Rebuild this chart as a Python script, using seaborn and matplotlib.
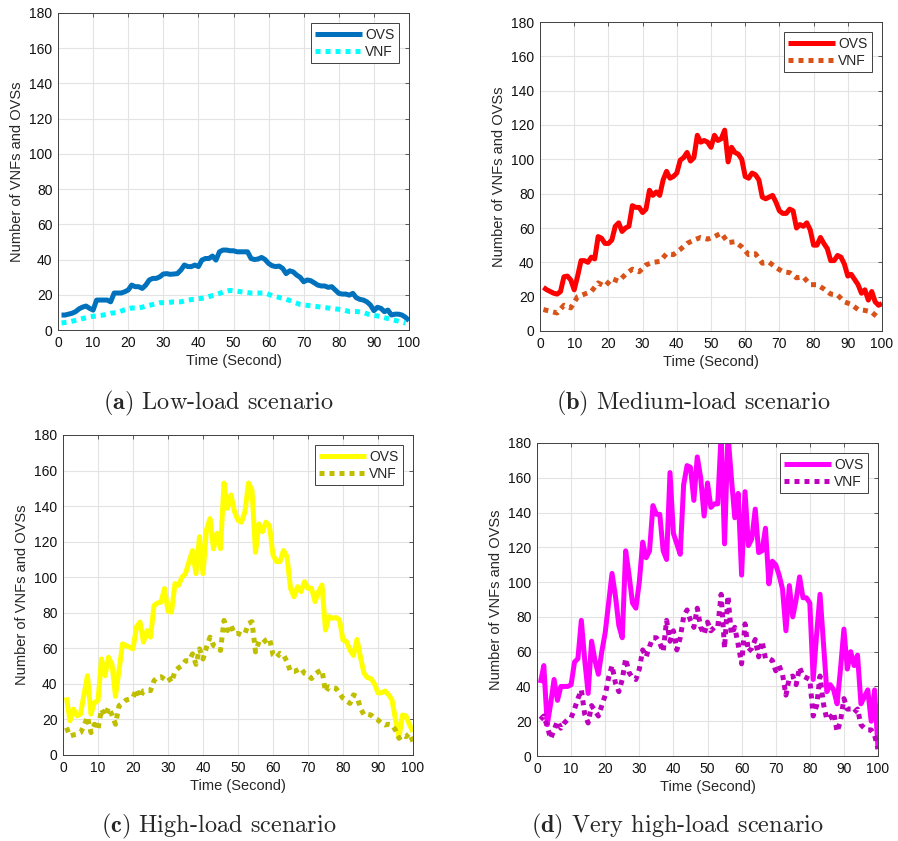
import numpy as np
import pandas as pd
import matplotlib
matplotlib.use("Agg")
import matplotlib.pyplot as plt
import seaborn as sns

# ---------------- data ----------------
t_full = list(range(1, 101))
t_odd = list(range(1, 100, 2))

ovs_low = [8.5, 8.5, 9, 9.5, 10.4, 12, 13, 13.6, 12.3, 11.3,
           17, 17, 17, 17, 16, 21, 21, 21, 21.7, 22.7,
           25.5, 24.6, 24.6, 23.6, 25.5, 28.4, 29.3, 29.3, 30.2, 31.8,
           32, 31.6, 31.8, 32, 34, 36.9, 36, 36, 36.9, 36,
           39.7, 40.6, 40.6, 42, 39.7, 44.4, 45.4, 45.4, 45, 45,
           44.4, 44.4, 44.4, 44.4, 40.6, 40, 40.3, 41.2, 40, 37.8,
           36.5, 36, 36.3, 35, 32, 33.6, 33, 31.2, 29.9, 27.4,
           28.4, 28, 26.8, 25.5, 25, 25, 24.2, 24.6, 22.7, 20.8,
           20.4, 20.4, 19.8, 20.8, 18.3, 17.4, 17, 16, 14.2, 11,
           12.9, 12.3, 10.4, 11.3, 8.5, 9, 9, 8.5, 7.2, 5.3]
vnf_low = [4, 4.5, 5.5, 6.5, 7.5, 8, 8.5, 9.5, 10, 11.5,
           12.5, 12.5, 13.5, 14.5, 15.5, 15.5, 16, 16, 17, 17.5,
           18, 19, 20, 21.5, 22.5, 22, 21.5, 21, 21, 21,
           19.5, 18.5, 17.5, 16, 14.5, 14, 13.5, 13, 12.5, 12,
           11.5, 10.5, 10.5, 10, 8.5, 8, 7, 6, 5, 4]

ovs_med = [25.4, 24, 23, 22, 21.5, 23, 31.6, 32, 29.7, 24,
           32, 41, 41, 40, 43, 42, 55, 54, 51, 51,
           53, 61, 63, 58, 60, 61, 73, 72, 72, 69,
           71, 82, 79, 81, 79, 88, 93, 89, 90, 92,
           99.5, 101, 104, 99, 101, 114, 110, 111, 110, 107,
           114, 111, 112, 117, 98.5, 107, 104, 103, 100, 90,
           89, 92, 91, 88, 78, 77, 78, 79, 75, 70,
           68.5, 68.5, 71, 70, 60, 62, 61, 63, 59, 50,
           50, 54.5, 51, 48, 41, 41, 44, 43, 39, 32,
           33, 30, 27, 22, 24, 18, 23, 17, 15, 16]
vnf_med = [12.5, 11.5, 10.5, 15, 13.5, 20, 21.5, 23, 28, 26,
           30.5, 29, 33, 36, 34.5, 38.5, 40, 40.5, 45, 44.5,
           47.5, 51, 53, 54.5, 53.5, 55, 57, 51.5, 52, 49,
           44.5, 45, 39.5, 40, 37, 34.5, 34, 31, 31.5, 27,
           27, 24.5, 21.5, 21, 17, 15.5, 12.5, 12, 11, 7.5]

ovs_high = [32.4, 19.2, 25.8, 22, 23, 34, 44.6, 23, 29.6, 30.5,
            54, 44.6, 55, 51, 33, 47.5, 62.5, 61.6, 60.6, 59.7,
            72, 74.8, 63.5, 70, 66.3, 84, 85.5, 86, 93.6, 81,
            80.4, 96.4, 95.5, 100, 102, 108.7, 115, 102, 122.8, 102,
            126.6, 133, 116, 124.7, 116, 153, 138.8, 146.3, 137, 132,
            131, 137, 153, 149, 114, 130, 125.6, 131, 129, 112.5,
            108.8, 108.8, 115, 111.6, 93.8, 89, 94.7, 91.9, 97.5, 93.8,
            93.8, 86.3, 91.9, 95.6, 70.3, 77.8, 77, 77.3, 76, 64.7,
            63.8, 59, 56, 65, 55, 46, 43.5, 43, 40, 35,
            35, 36, 34, 31, 20, 10, 22.5, 22, 17, 13]
vnf_high = [15.4, 10.7, 11.3, 11.7, 12.6, 16.4, 21.5, 12.6, 17.3, 14.5,
            25.8, 22, 26.7, 22.6, 17.3, 27.7, 29, 30.9, 31.5, 32.4,
            37, 32.4, 36.2, 36.5, 36.2, 41.8, 43.7, 44, 42.7, 44,
            40.9, 47, 49, 50.3, 53, 53, 56.9, 51, 59.7, 54,
            60.6, 66.3, 61.6, 60.6, 58.8, 75.7, 70, 72.9, 68.2, 68.4,
            67.5, 68.4, 74, 75, 58, 63.8, 62.8, 64.7, 65.6, 56.3,
            54.8, 57.2, 56.3, 52.5, 46.9, 46.9, 47.8, 48.8, 45.9, 45,
            43, 45.4, 46.9, 47.8, 35.6, 38.4, 37.9, 37.5, 34.7, 31.9,
            30.4, 29, 33.8, 32.8, 26.3, 22.5, 22.9, 22.5, 20.6, 19.7,
            17.8, 16.9, 17.3, 16.9, 14, 9.4, 11.3, 10.3, 12.2, 7.5]

ovs_vhigh = [42, 52, 18, 30, 44, 32, 40, 40, 40, 41,
             54, 56, 78, 55, 36, 66, 55, 47, 60, 71,
             88, 105, 92, 75, 68, 118, 104, 88, 85, 100,
             123, 114, 118, 144, 139, 139, 118, 113, 163, 128,
             122, 116, 156, 167, 166, 147, 172, 160, 138, 157,
             143, 145, 145, 185, 122, 185, 160, 137, 151, 104,
             152, 121, 125, 142, 117, 118, 131, 99, 112, 110,
             104, 96, 72, 98, 80, 90, 103, 91, 91, 88,
             44, 70, 93, 65, 37, 41, 38, 30, 50, 73,
             50, 60, 52, 58, 30, 34, 38, 20, 38, 4]
vnf_vhigh = [21, 23, 17, 10, 15, 20, 16, 19, 21, 22,
             27, 33, 38, 24, 19, 29, 26, 23, 29, 35,
             45, 52, 42, 37, 44, 56, 48, 45, 44, 50,
             61, 57, 63, 68, 68, 65, 60, 78, 66, 72,
             61, 68, 80, 84, 78, 74, 85, 74, 70, 77,
             72, 74, 74, 93, 62, 92, 70, 74, 64, 53,
             76, 60, 62, 67, 57, 66, 56, 56, 55, 49,
             52, 47, 35, 45, 46, 41, 51, 46, 45, 44,
             23, 29, 46, 30, 21, 22, 25, 14, 20, 33,
             27, 27, 25, 27, 18, 16, 15, 15, 12, 4]

x_ticks = list(range(0, 101, 10))
y_ticks = list(range(0, 181, 20))
captions = [("a", "Low-load scenario"), ("b", "Medium-load scenario"),
            ("c", "High-load scenario"), ("d", "Very high-load scenario")]

panels = [
    (t_full, ovs_low, t_odd, vnf_low, "#0072BD", "#00FFFF"),
    (t_full, ovs_med, t_odd, vnf_med, "#FF0000", "#D95319"),
    (t_full, ovs_high, t_full, vnf_high, "#FFFF00", "#BFBF00"),
    (t_full, ovs_vhigh, t_full, vnf_vhigh, "#FF00FF", "#BF00BF"),
]

# ---------------- style ----------------
sns.set_style("white")
plt.rcParams["font.family"] = ["Liberation Sans", "DejaVu Sans"]
plt.rcParams["mathtext.fontset"] = "cm"

W, H = 898, 841
fig = plt.figure(figsize=(W / 100, H / 100), dpi=100)

# axes boxes in pixels: left, right, top, bottom
boxes = [(58, 409, 13, 330), (540, 882, 22, 331),
         (63, 413, 435, 755), (537, 878, 443, 756)]
cap_pos = [(218, 403), (693, 403), (219, 826), (677, 826)]

for i, ((tx, ov, tv, vn, c1, c2), (l, r, tp, b)) in enumerate(zip(panels, boxes)):
    ax = fig.add_axes([l / W, 1 - b / H, (r - l) / W, (b - tp) / H])
    df1 = pd.DataFrame({"t": tx, "v": ov})
    df2 = pd.DataFrame({"t": tv, "v": vn})
    sns.lineplot(data=df1, x="t", y="v", ax=ax, color=c1, linewidth=3.6,
                 label="OVS", solid_joinstyle="round", solid_capstyle="butt")
    sns.lineplot(data=df2, x="t", y="v", ax=ax, color=c2, linewidth=3.6,
                 label="VNF")
    ax.lines[-1].set_linestyle((0, (1, 1)))
    ax.lines[-1].set_dash_capstyle("butt")
    ax.set_xlim(0, 100)
    ax.set_ylim(0, 180)
    ax.set_xticks(x_ticks)
    ax.set_yticks(y_ticks)
    ax.grid(True, color="#E3E3E3", linewidth=0.8)
    ax.set_axisbelow(True)
    for s in ax.spines.values():
        s.set_color("#404040")
        s.set_linewidth(0.7)
    ax.tick_params(direction="in", length=3, width=0.6, color="#404040",
                   labelsize=10, labelcolor="#111111", top=True, right=True,
                   pad=4)
    ax.set_xlabel("Time (Second)", fontsize=10.5, labelpad=3)
    ax.set_ylabel("Number of VNFs and OVSs", fontsize=10.5, labelpad=4)
    leg = ax.legend(loc="upper right", fontsize=10, handlelength=3.4,
                    handletextpad=0.2, borderpad=0.3, labelspacing=0.25,
                    borderaxespad=0.75, fancybox=False, framealpha=1,
                    edgecolor="#404040")
    leg.get_frame().set_linewidth(0.7)
    tag, txt = captions[i]
    cx, cy = cap_pos[i]
    fig.text(cx / W, 1 - cy / H, r"$\mathbf{(" + tag + r")}$ " + txt,
             ha="center", va="center", fontsize=17.5, family="cmr10")

fig.savefig("out.png", dpi=100)
